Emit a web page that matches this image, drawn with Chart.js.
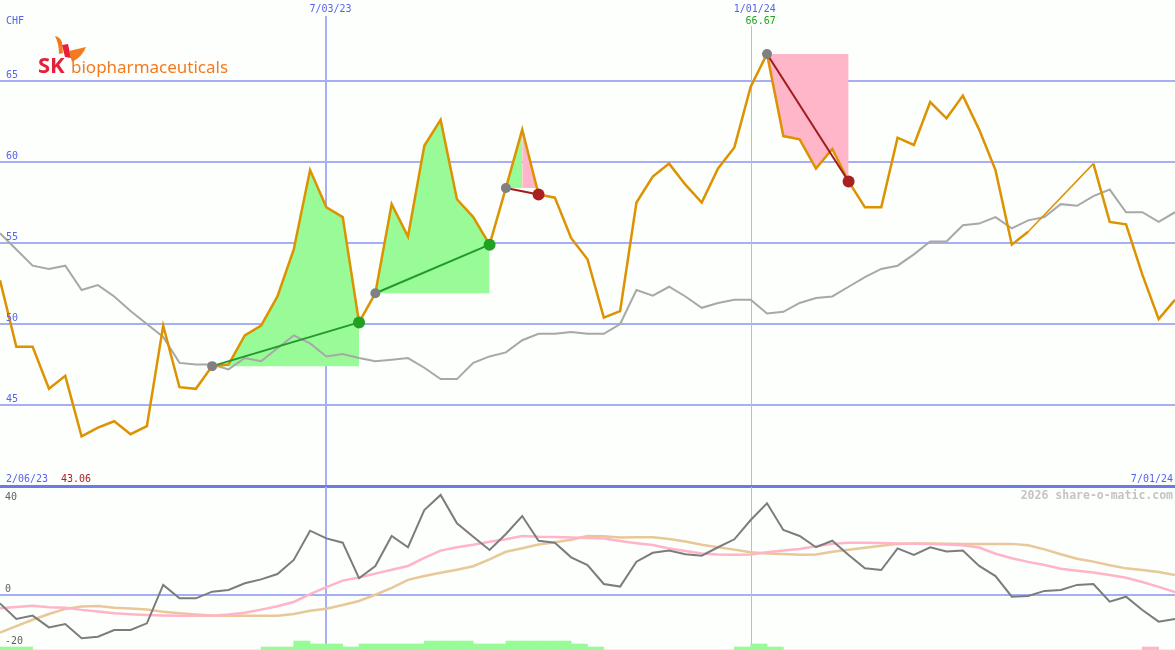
<!DOCTYPE html>
<html>
<head>
<meta charset="utf-8">
<script src="https://cdn.jsdelivr.net/npm/chart.js@4.4.1/dist/chart.umd.min.js"></script>
<style>
  html, body { margin: 0; padding: 0; background: #fcfffc; }
  #wrap { position: relative; width: 1175px; height: 650px; overflow: hidden; }
  #price { position: absolute; left: 0; top: 0; }
  #osc { position: absolute; left: 0; top: 487px; }
</style>
</head>
<body>
<div id="wrap">
  <canvas id="price" width="1175" height="487"></canvas>
  <canvas id="osc" width="1175" height="163"></canvas>
</div>
<script>
// weekly closes, index 0 = first week shown, 72 = last week
const xMax = 72;
const price = [52.7, 48.6, 48.6, 46.0, 46.8, 43.06, 43.6, 44.0, 43.2, 43.7,
  49.9, 46.1, 46.0, 47.4, 47.5, 49.3, 49.9, 51.7, 54.6, 59.5,
  57.2, 56.6, 50.1, 51.9, 57.4, 55.4, 61.0, 62.6, 57.7, 56.6,
  54.9, 58.4, 62.0, 58.0, 57.8, 55.3, 54.0, 50.4, 50.8, 57.5,
  59.1, 59.9, 58.6, 57.5, 59.6, 60.9, 64.65, 66.67, 61.6, 61.4,
  59.6, 60.8, 58.8, 57.2, 57.2, 61.5, 61.05, 63.7, 62.7, 64.1,
  62.0, 59.5, 54.9, 55.7, null, null, null, 59.9, 56.3, 56.15,
  53.05, 50.3, 51.5];
const average = [55.6, 54.6, 53.6, 53.4, 53.6, 52.1, 52.4, 51.7, 50.8, 50.0,
  49.2, 47.6, 47.5, 47.5, 47.2, 47.9, 47.7, 48.5, 49.3, 48.8,
  48.0, 48.15, 47.9, 47.7, 47.8, 47.9, 47.3, 46.6, 46.6, 47.6,
  48.0, 48.25, 49.0, 49.4, 49.4, 49.5, 49.4, 49.4, 50.0, 52.1,
  51.75, 52.3, 51.7, 51.0, 51.3, 51.5, 51.5, 50.65, 50.75, 51.3,
  51.6, 51.7, 52.3, 52.9, 53.4, 53.6, 54.3, 55.1, 55.1, 56.1,
  56.2, 56.6, 55.9, 56.4, 56.6, 57.4, 57.3, 57.9, 58.3, 56.9,
  56.9, 56.3, 56.9];

// lower panel
const momentum = [-3.5, -10, -8.6, -13.5, -12.1, -18, -17.4, -14.6, -14.6, -11.8,
  4.2, -1.4, -1.4, 1.4, 2.1, 4.9, 6.5, 8.75, 14.6, 26.8,
  23.6, 21.8, 7.0, 12.1, 24.6, 19.9, 35.4, 41.7, 29.9, 24.3,
  18.75, 25.4, 32.9, 22.6, 21.8, 15.7, 12.5, 4.6, 3.5, 13.9,
  17.6, 18.5, 17.0, 16.4, 19.9, 23.2, 31.25, 38.2, 27.1, 24.6,
  19.9, 22.6, 16.7, 11.1, 10.4, 19.4, 16.7, 19.9, 18.1, 18.5,
  12.1, 7.9, -0.7, -0.4, 1.7, 2.1, 4.2, 4.6, -2.8, -0.7,
  -6.25, -11.1, -10];
const fastSignal = [-5.5, -5.0, -4.5, -5.1, -5.3, -6.2, -6.9, -7.6, -8.0, -8.3,
  -8.5, -8.6, -8.6, -8.6, -8.1, -7.4, -6.1, -4.7, -2.9, 0.4,
  3.3, 6.0, 7.3, 8.9, 10.5, 12.1, 15.5, 18.5, 19.9, 20.9,
  22.2, 23.2, 24.6, 24.3, 24.2, 24.0, 23.7, 23.5, 22.5, 21.6,
  20.8, 19.4, 18.3, 17.3, 16.9, 16.8, 16.9, 17.8, 18.5, 19.2,
  20.3, 21.3, 21.8, 21.8, 21.7, 21.5, 21.4, 21.2, 21.0, 20.7,
  19.8, 17.2, 15.3, 13.8, 12.5, 10.9, 10.1, 9.4, 8.3, 7.2,
  5.4, 3.4, 1.2];
const slowSignal = [-15.7, -13.0, -10.3, -7.9, -5.8, -4.8, -4.6, -5.3, -5.6, -6.0,
  -7.0, -7.6, -8.1, -8.5, -8.6, -8.6, -8.6, -8.6, -7.9, -6.6,
  -5.7, -4.2, -2.5, 0.1, 3.0, 6.3, 7.9, 9.3, 10.5, 12.0,
  14.8, 18.0, 19.5, 21.0, 22.0, 23.0, 24.6, 24.5, 24.0, 24.1,
  24.1, 23.3, 22.3, 20.9, 19.9, 18.9, 17.8, 17.3, 17.1, 16.8,
  16.9, 18.0, 18.9, 19.7, 20.5, 21.3, 21.5, 21.5, 21.4, 21.3,
  21.3, 21.3, 21.3, 20.7, 19.0, 17.0, 15.1, 13.9, 12.4, 11.1,
  10.4, 9.6, 8.3];
// one value per week interval, sign = direction
const signalBars = [1, 1, 0, 0, 0, 0, 0, 0, 0, 0,
  0, 0, 0, 0, 0, 0, 1, 1, 3, 2,
  2, 1, 2, 2, 2, 2, 3, 3, 3, 2,
  2, 3, 3, 3, 3, 2, 1, 0, 0, 0,
  0, 0, 0, 0, 0, 1, 2, 1, 0, 0,
  0, 0, 0, 0, 0, 0, 0, 0, 0, 0,
  0, 0, 0, 0, 0, 0, 0, 0, 0, 0,
  -1, 0];

// trades
const entryIdx = [13, 23, 31, 47];
const exitIdx = [22, 30, 33, 52];
const tradeWon = [true, true, false, false];
const shadeFrom = [13, 23, 31, 32, 47];
const shadeTo = [22, 30, 32, 33, 52];
const shadeLevel = [47.4, 51.9, 58.4, 58.4, 66.67];
const shadeGain = [true, true, true, false, false];

const priceTicks = [45, 50, 55, 60, 65];
const oscTicks = [40, 0, -20];
const markIdx = [20, 46];
const markLabels = ['7/03/23', '1/01/24'];
const edgeDates = ['2/06/23', '7/01/24'];
const currency = 'CHF';

const gridColor = '#a6aef4';
const labelColor = '#5862ee';
const orange = '#dd9200';
const green = '#98fb98';
const pink = '#ffb6c8';
const monoFont = '10px "DejaVu Sans Mono", monospace';

const pts = arr => arr.map((y, i) => ({ x: i, y: y }));

// --- PRICE PANEL ---
const priceSets = [];
shadeFrom.forEach((from, k) => {
  const idx = [];
  for (let i = from; i <= shadeTo[k]; i++) idx.push(i);
  const base = priceSets.length;
  priceSets.push({
    data: idx.map(i => ({ x: i, y: shadeLevel[k] })),
    borderWidth: 0, borderColor: 'transparent', pointRadius: 0, fill: false, order: 20
  });
  const c = shadeGain[k] ? green : pink;
  priceSets.push({
    data: idx.map(i => ({ x: i, y: price[i] })),
    borderWidth: 0, borderColor: 'transparent', pointRadius: 0, order: 19,
    fill: { target: base, above: c, below: c }
  });
});

priceSets.push({
  data: pts(average), borderColor: '#a8a8a8', borderWidth: 2, pointRadius: 0, fill: false, order: 6
});
priceSets.push({
  data: pts(price), borderColor: orange, borderWidth: 2.5, pointRadius: 0, fill: false, order: 5,
  spanGaps: true,
  segment: { borderWidth: ctx => (ctx.p0.skip || ctx.p1.skip) ? 1.5 : undefined }
});
entryIdx.forEach((e, k) => {
  priceSets.push({
    data: [{ x: e, y: price[e] }, { x: exitIdx[k], y: price[exitIdx[k]] }],
    borderColor: tradeWon[k] ? '#22992a' : '#a01c1c', borderWidth: 2, pointRadius: 0, fill: false, order: 3
  });
});
priceSets.push({
  data: entryIdx.map(e => ({ x: e, y: price[e] })), showLine: false,
  pointRadius: 5, pointBackgroundColor: '#808080', pointBorderWidth: 0, order: 1
});
priceSets.push({
  data: exitIdx.map(e => ({ x: e, y: price[e] })), showLine: false,
  pointRadius: 6, pointBorderWidth: 0,
  pointBackgroundColor: tradeWon.map(w => w ? '#22a022' : '#a82020'), order: 0
});

const drawLogo = ctx => {
  ctx.save();
  ctx.fillStyle = '#f47a20';
  ctx.beginPath();
  ctx.moveTo(55, 36); ctx.quadraticCurveTo(60, 37, 62, 42); ctx.lineTo(63, 53);
  ctx.lineTo(59, 54); ctx.quadraticCurveTo(59, 44, 55, 36); ctx.fill();
  ctx.fillStyle = '#e8203a';
  ctx.beginPath();
  ctx.moveTo(62, 45); ctx.lineTo(68, 44); ctx.lineTo(71, 58); ctx.lineTo(65, 57); ctx.closePath(); ctx.fill();
  ctx.fillStyle = '#f47a20';
  ctx.beginPath();
  ctx.moveTo(69, 51); ctx.lineTo(86, 47); ctx.quadraticCurveTo(82, 57, 72, 62); ctx.closePath(); ctx.fill();
  ctx.textBaseline = 'alphabetic';
  ctx.textAlign = 'left';
  ctx.fillStyle = '#e4203a';
  ctx.font = 'bold 22px "Noto Sans", "DejaVu Sans", sans-serif';
  ctx.fillText('SK', 38, 73);
  ctx.fillStyle = '#f47a20';
  ctx.font = '17px "Noto Sans", "DejaVu Sans", sans-serif';
  ctx.fillText('biopharmaceuticals', 71, 73);
  ctx.restore();
};

const priceDecor = {
  id: 'priceDecor',
  beforeDatasetsDraw(chart) {
    const { ctx, scales: { x, y } } = chart;
    ctx.save();
    ctx.fillStyle = gridColor;
    priceTicks.forEach(v => {
      const py = Math.round(y.getPixelForValue(v));
      ctx.fillRect(0, py - 1, chart.width, 2);
    });
    markIdx.forEach((m, k) => {
      const px = Math.round(x.getPixelForValue(m));
      if (k === 0) {
        ctx.fillStyle = gridColor;
        ctx.fillRect(px - 1, 16, 2, chart.height);
      } else {
        ctx.fillStyle = '#b6bae2';
        ctx.fillRect(px, 26, 1, chart.height);
      }
    });
    ctx.restore();
  },
  afterDraw(chart) {
    const { ctx, scales: { x, y } } = chart;
    ctx.save();
    ctx.font = monoFont;
    ctx.textBaseline = 'middle';
    ctx.fillStyle = labelColor;
    ctx.textAlign = 'left';
    ctx.fillText(currency, 6, 21);
    priceTicks.forEach(v => ctx.fillText(String(v), 6, y.getPixelForValue(v) - 6));
    markIdx.forEach((m, k) => ctx.fillText(markLabels[k], x.getPixelForValue(m) - 17, 9));
    const vals = price.filter(v => v !== null);
    const hi = Math.max(...vals), lo = Math.min(...vals);
    ctx.textAlign = 'right';
    ctx.fillStyle = '#20a020';
    ctx.fillText(hi.toFixed(2), x.getPixelForValue(markIdx[1]) + 25, 21);
    // bottom edge labels
    ctx.textAlign = 'left';
    ctx.fillStyle = labelColor;
    ctx.fillText(edgeDates[0], 6, 479);
    ctx.fillStyle = '#b02020';
    ctx.fillText(lo.toFixed(2), 61, 479);
    ctx.textAlign = 'right';
    ctx.fillStyle = labelColor;
    ctx.fillText(edgeDates[1], 1173, 479);
    // separator
    ctx.fillStyle = '#6c7ae8';
    ctx.fillRect(0, 485, chart.width, 2);
    ctx.restore();
    drawLogo(ctx);
  }
};

new Chart(document.getElementById('price'), {
  type: 'line',
  data: { datasets: priceSets },
  options: {
    responsive: false, animation: false, events: [], devicePixelRatio: 1,
    layout: { padding: 0, autoPadding: false },
    plugins: { legend: { display: false }, tooltip: { enabled: false } },
    scales: {
      x: { type: 'linear', min: 0, max: xMax, display: false, offset: false },
      y: { type: 'linear', min: 39.94, max: 70, display: false }
    }
  },
  plugins: [priceDecor]
});

// --- OSCILLATOR PANEL ---
const oscDecor = {
  id: 'oscDecor',
  beforeDatasetsDraw(chart) {
    const { ctx, scales: { x, y } } = chart;
    ctx.save();
    ctx.fillStyle = '#6c7ae8';
    ctx.fillRect(0, 0, chart.width, 1);
    ctx.fillStyle = gridColor;
    const z = Math.round(y.getPixelForValue(0));
    ctx.fillRect(0, z - 1, chart.width, 2);
    markIdx.forEach((m, k) => {
      const px = Math.round(x.getPixelForValue(m));
      if (k === 0) {
        ctx.fillStyle = gridColor;
        ctx.fillRect(px - 1, 0, 2, chart.height);
      } else {
        ctx.fillStyle = '#b6bae2';
        ctx.fillRect(px, 0, 1, chart.height);
      }
    });
    ctx.restore();
  },
  afterDraw(chart) {
    const { ctx, scales: { y } } = chart;
    ctx.save();
    ctx.font = monoFont;
    ctx.textBaseline = 'middle';
    ctx.textAlign = 'left';
    ctx.fillStyle = '#606060';
    oscTicks.forEach(v => ctx.fillText(String(v), 5, y.getPixelForValue(v) - (v === 0 ? 6 : 2)));
    ctx.font = 'bold 11.5px "DejaVu Sans Mono", monospace';
    ctx.textAlign = 'right';
    ctx.fillStyle = '#c4c4c4';
    ctx.fillText('2026 share-o-matic.com', 1173, 9);
    ctx.restore();
  }
};

new Chart(document.getElementById('osc'), {
  type: 'line',
  data: {
    datasets: [
      { data: pts(momentum), borderColor: '#7c7c7c', borderWidth: 2, pointRadius: 0, fill: false, order: 0 },
      { data: pts(fastSignal), borderColor: '#ffb4c8', borderWidth: 2.5, pointRadius: 0, fill: false, order: 1 },
      { data: pts(slowSignal), borderColor: '#e8c898', borderWidth: 2.5, pointRadius: 0, fill: false, order: 2 },
      {
        type: 'bar', yAxisID: 'y2', order: 3,
        data: signalBars.map((v, i) => ({ x: i + 0.5, y: Math.abs(v) })),
        backgroundColor: signalBars.map(v => v < 0 ? pink : green),
        borderWidth: 0, barPercentage: 1, categoryPercentage: 1, grouped: false
      }
    ]
  },
  options: {
    responsive: false, animation: false, events: [], devicePixelRatio: 1,
    layout: { padding: 0, autoPadding: false },
    plugins: { legend: { display: false }, tooltip: { enabled: false } },
    scales: {
      x: { type: 'linear', min: 0, max: xMax, display: false, offset: false },
      y: { type: 'linear', min: -22.92, max: 45, display: false },
      y2: { type: 'linear', min: 0, max: 163 / 3, display: false }
    }
  },
  plugins: [oscDecor]
});
</script>
</body>
</html>
